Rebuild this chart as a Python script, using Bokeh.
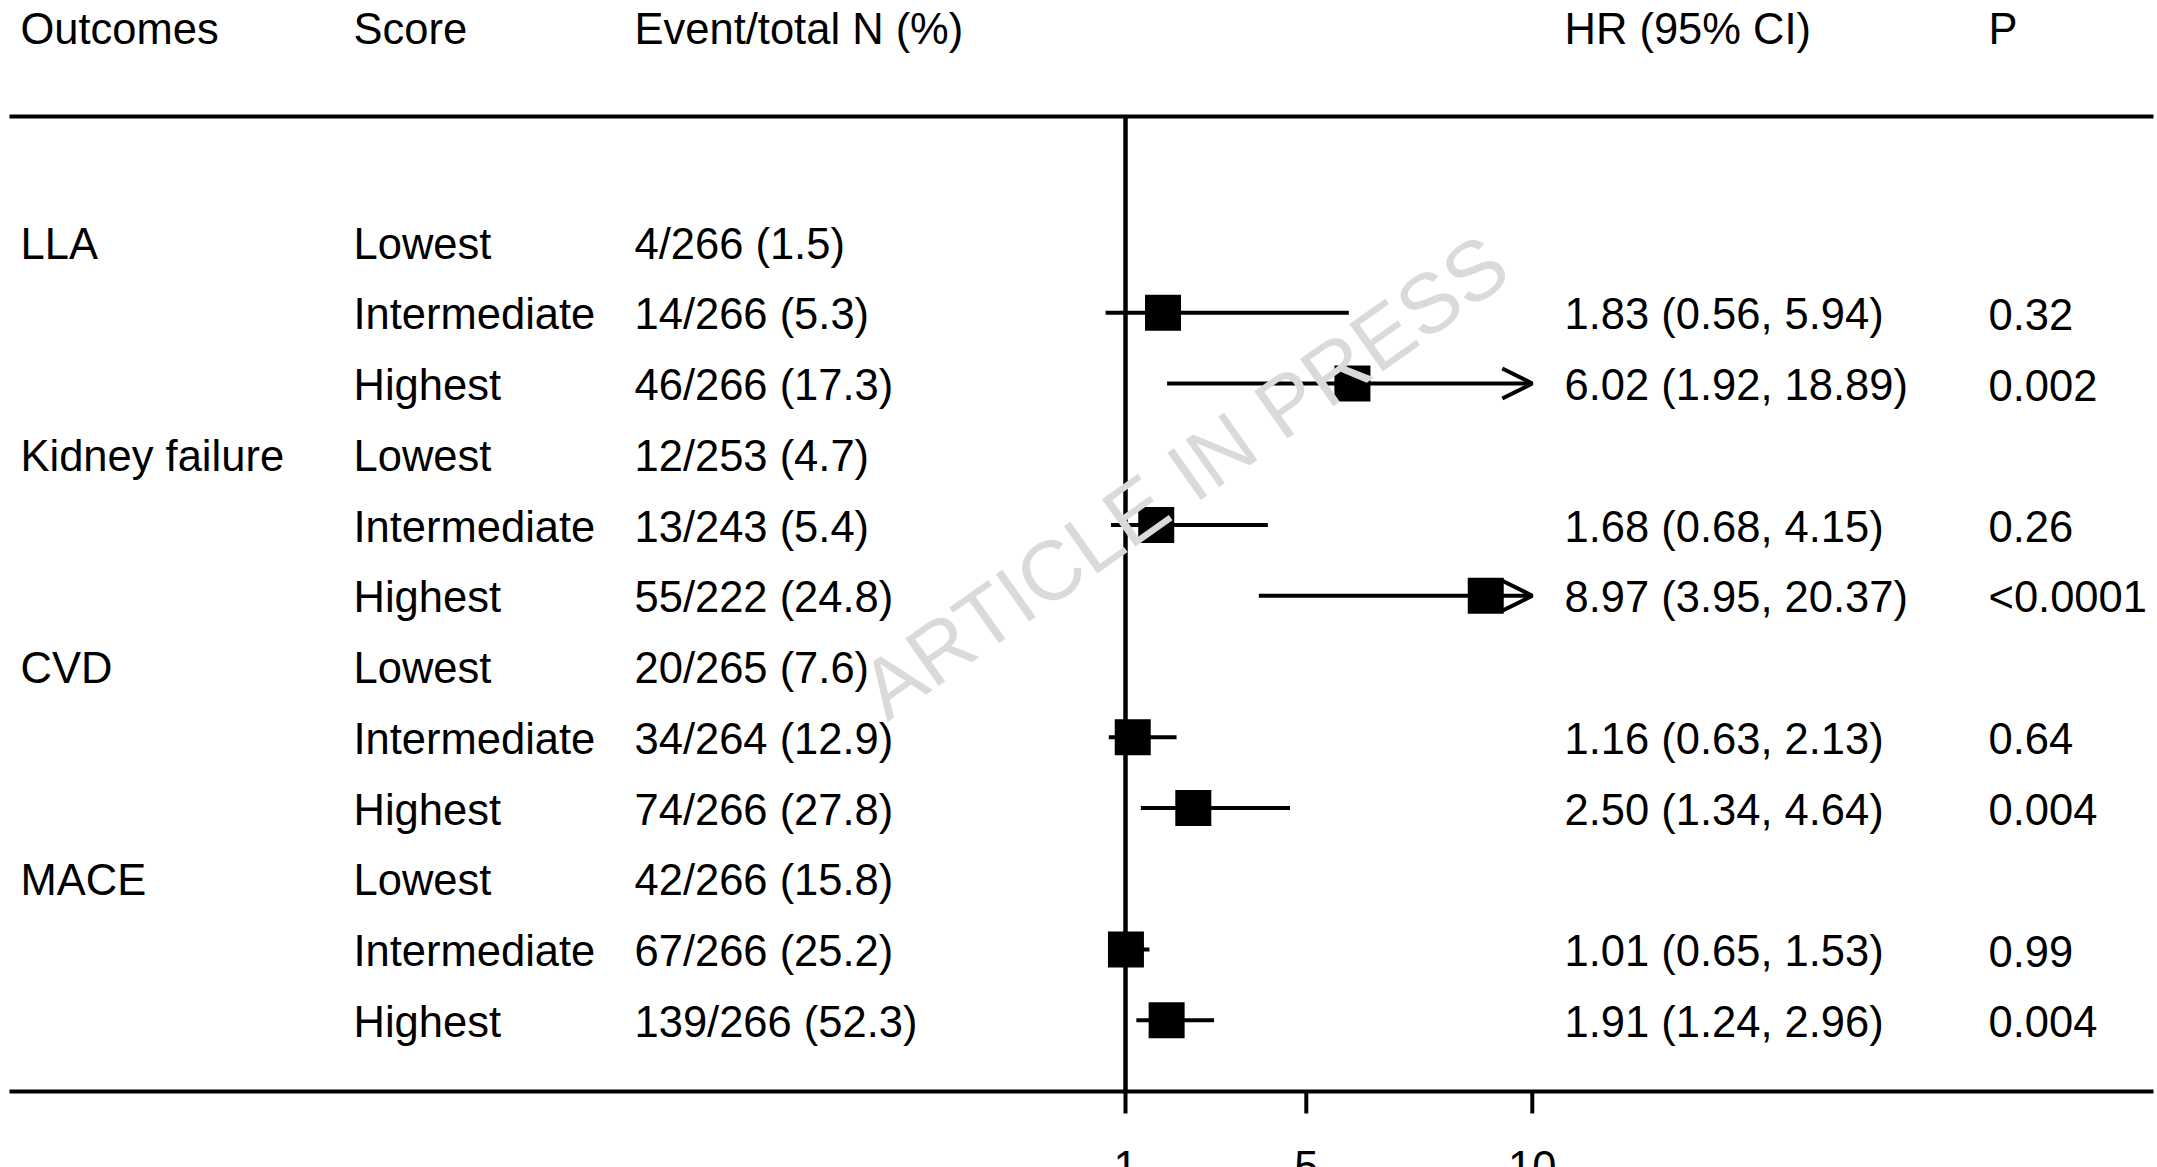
from bokeh.plotting import figure
from bokeh.models import Range1d, ColumnDataSource, Arrow, OpenHead, Label
from bokeh.core.properties import value
from bokeh.embed import file_html
from bokeh.resources import INLINE

# ---------------- data ----------------
headers = ["Outcomes", "Score", "Event/total N (%)", "HR (95% CI)", "P"]
outcomes = ["LLA", "Kidney failure", "CVD", "MACE"]
scores = ["Lowest", "Intermediate", "Highest"]
events = ["4/266 (1.5)", "14/266 (5.3)", "46/266 (17.3)",
          "12/253 (4.7)", "13/243 (5.4)", "55/222 (24.8)",
          "20/265 (7.6)", "34/264 (12.9)", "74/266 (27.8)",
          "42/266 (15.8)", "67/266 (25.2)", "139/266 (52.3)"]
hr = [None, 1.83, 6.02, None, 1.68, 8.97, None, 1.16, 2.50, None, 1.01, 1.91]
hr_lo = [None, 0.56, 1.92, None, 0.68, 3.95, None, 0.63, 1.34, None, 0.65, 1.24]
hr_hi = [None, 5.94, 18.89, None, 4.15, 20.37, None, 2.13, 4.64, None, 1.53, 2.96]
p_values = ["", "0.32", "0.002", "", "0.26", "<0.0001", "", "0.64", "0.004", "", "0.99", "0.004"]
x_ticks = [1, 5, 10]
tick_labels = ["1", "5", "10"]
x_clip = 10

# ---------------- layout (page pixels) ----------------
W, H = 2157, 1167
LEFT, TOP = 0, 0
ROW0_Y, ROW_H = 241.5, 70.75         # centre of first data row, row spacing
HR1_X, PX_PER_UNIT = 1125.0, 45.2     # x of HR = 1, pixels per HR unit
BASE_OFF = 1.5 / 70.75                # text anchor offset below row centre
HEAD_OFF = -1.0 / 70.75
FONT = "Liberation Sans"
FS = "43.5px"


def row_of(py):
    return (py - ROW0_Y) / ROW_H


def hr_of(px):
    return 1 + (px - HR1_X) / PX_PER_UNIT


p = figure(width=W, height=H, output_backend="svg", toolbar_location=None,
           x_range=Range1d(LEFT, LEFT + W),
           y_range=Range1d(row_of(TOP + H), row_of(TOP)),
           x_axis_location=None, y_axis_location=None, min_border=0)
p.extra_x_ranges = {"hr": Range1d(hr_of(LEFT), hr_of(LEFT + W))}
p.outline_line_color = None
p.grid.visible = False
p.background_fill_color = "white"
p.border_fill_color = "white"

col_x = [20, 353, 634, 1564, 1988]
n = len(events)
rows = list(range(n))

text_kw = dict(text_font=value(FONT), text_font_size=value(FS),
               text_baseline="alphabetic", text_align="left", text_color="black")

# header
p.text(x=col_x, y=[-3 + HEAD_OFF] * len(headers), text=headers, **text_kw)
# outcome names
p.text(x=[col_x[0]] * len(outcomes), y=[3 * k + BASE_OFF for k in range(len(outcomes))],
       text=outcomes, **text_kw)
# scores
p.text(x=[col_x[1]] * n, y=[r + BASE_OFF for r in rows],
       text=[scores[r % 3] for r in rows], **text_kw)
# events
p.text(x=[col_x[2]] * n, y=[r + BASE_OFF for r in rows], text=events, **text_kw)
# HR text and p
est_rows = [r for r in rows if hr[r] is not None]
hr_txt = [f"{hr[r]:.2f} ({hr_lo[r]:.2f}, {hr_hi[r]:.2f})" for r in est_rows]
p.text(x=[col_x[3]] * len(est_rows), y=[r + BASE_OFF for r in est_rows], text=hr_txt, **text_kw)
p.text(x=[col_x[4]] * len(est_rows), y=[r + BASE_OFF for r in est_rows],
       text=[p_values[r] for r in est_rows], **text_kw)

# table rules
top_rule = row_of(116)
bottom_rule = row_of(1091)
p.segment(x0=[9, 9], x1=[2153, 2153], y0=[top_rule, bottom_rule],
          y1=[top_rule, bottom_rule], line_color="black", line_width=4)

# reference line at HR = 1
p.segment(x0=[1], x1=[1], y0=[top_rule], y1=[bottom_rule], x_range_name="hr",
          line_color="black", line_width=4.5)

# ticks and tick labels
p.segment(x0=x_ticks, x1=x_ticks, y0=[bottom_rule] * 3, y1=[row_of(1113)] * 3,
          x_range_name="hr", line_color="black", line_width=4)
p.text(x=x_ticks, y=[row_of(1166)] * 3, text=tick_labels, x_range_name="hr",
       text_font=value(FONT), text_font_size=value(FS), text_align="center",
       text_baseline="alphabetic", text_color="black")

# confidence intervals
ci_plain = [r for r in est_rows if hr_hi[r] <= x_clip]
ci_arrow = [r for r in est_rows if hr_hi[r] > x_clip]
p.segment(x0=[hr_lo[r] for r in ci_plain], x1=[hr_hi[r] for r in ci_plain],
          y0=ci_plain, y1=ci_plain, x_range_name="hr", line_color="black", line_width=4)
arrow_src = ColumnDataSource(dict(x0=[hr_lo[r] for r in ci_arrow],
                                  x1=[x_clip] * len(ci_arrow),
                                  y=ci_arrow))
p.add_layout(Arrow(source=arrow_src, x_start="x0", x_end="x1", y_start="y", y_end="y",
                   x_range_name="hr", line_color="black", line_width=4,
                   end=OpenHead(size=30, line_width=4, line_color="black")))

# point estimates
p.scatter(x=[hr[r] for r in est_rows], y=est_rows, marker="square", size=36,
          fill_color="black", line_color="black", line_width=0, x_range_name="hr")

# watermark
p.add_layout(Label(x=870, y=row_of(698), text="ARTICLE IN PRESS", angle=35.3,
                   angle_units="deg", text_font=FONT, text_font_size="84px",
                   text_color="#dadada", text_align="left", text_baseline="alphabetic",
                   level="overlay"))

open("out.html", "w").write(file_html(p, INLINE))
